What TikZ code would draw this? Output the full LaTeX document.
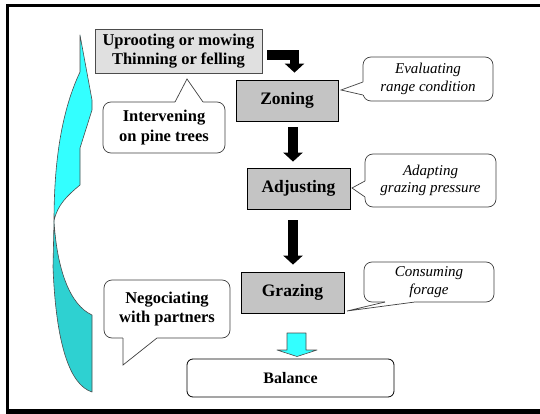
\documentclass[tikz,border=0pt]{standalone}
\usepackage{fontspec}
\setmainfont{Liberation Serif}
\usetikzlibrary{arrows.meta,calc}
\definecolor{lightcyan}{HTML}{33FFFF}
\definecolor{darkcyan}{HTML}{2ED1D1}
\definecolor{boxA}{HTML}{E0E0E0}
\definecolor{boxB}{HTML}{C4C4C4}
\newcommand\calloutptr[4]{%
  \fill[white] ($(#1)+#4$) -- ($(#1)-0.5*#4$) -- (#2) -- ($(#3)-0.5*#4$) -- ($(#3)+#4$) -- cycle;
  \draw[ptrline] (#1) -- (#2) -- (#3);}
\begin{document}
\begin{tikzpicture}[x=1pt,y=-1pt,
  stepbox/.style={draw=black,line width=0.8pt,fill=boxB,inner sep=0pt,
    font=\fontsize{17.5}{20}\selectfont\bfseries},
  callbox/.style={draw=black!75,line width=0.7pt,fill=white,rounded corners=8pt,
    inner sep=0pt,align=center},
  ptrline/.style={draw=black!75,line width=0.7pt},
  bolddesc/.style={font=\fontsize{16.5}{19.5}\selectfont\bfseries},
  itdesc/.style={font=\fontsize{15}{17.5}\selectfont\itshape},
  blk/.style={line width=9.5pt,draw=black,-{Triangle[width=19pt,length=9pt]}},
  cyanline/.style={draw=black!70,line width=0.6pt,line join=round},
]
\useasboundingbox (0,0) rectangle (540,414);

% frame
\draw[line width=3.2pt] (540,5.5) -- (7.5,5.5) -- (7.5,410);
\fill (5.9,409) rectangle (540,414);

% curved cyan arrow
\path[cyanline,fill=darkcyan] (54,221) -- (53,267)
  .. controls (56,345) and (70,385) .. (92,392) -- (92,315)
  .. controls (70,305) and (57,270) .. (54,221) -- cycle;
\path[cyanline,fill=lightcyan] (80,35) -- (92,100) -- (92,110) -- (80,148) -- (80,185)
  .. controls (68,195) and (57,205) .. (54,221)
  .. controls (54,160) and (62,110) .. (80,72) -- cycle;

% main boxes
\node[stepbox,fill=boxA,draw=black!70,minimum width=167pt,minimum height=44pt,align=center,
  font=\fontsize{16.5}{19.5}\selectfont\bfseries] (up) at (178.5,51)
  {Uprooting or mowing\\Thinning or felling};
\node[stepbox,minimum width=102pt,minimum height=41pt] (zon) at (287,100.5) {Zoning};
\node[stepbox,minimum width=103pt,minimum height=41pt] (adj) at (298.5,188.5) {Adjusting};
\node[stepbox,minimum width=103pt,minimum height=41pt] (gra) at (292.5,292.5) {Grazing};
\node[draw=black,line width=0.8pt,rounded corners=6pt,minimum width=207pt,minimum height=38pt,
  inner sep=0pt,font=\fontsize{16}{19}\selectfont\bfseries] (bal) at (290.5,378) {Balance};

% black arrows
\coordinate (ax) at (293,0);
\coordinate (bx) at (294.5,55);
\draw[blk] ([xshift=5pt]up.east |- bx) -- (bx) -- ([yshift=7pt]zon.north -| bx);
\draw[blk] ([yshift=-6pt]zon.south -| ax) -- ([yshift=6pt]adj.north -| ax);
\draw[blk] ([yshift=-11pt]adj.south -| ax) -- ([yshift=7pt]gra.north -| ax);

% cyan block arrow
\draw[cyanline,fill=lightcyan] (287,333) -- (306,333) -- (306,350) -- (317,350)
  -- (297,356.5) -- (277,350) -- (287,350) -- cycle;

% callouts
\node[callbox,minimum width=130pt,minimum height=44pt,itdesc] (eva) at (428,79)
  {Evaluating\\range condition};
\calloutptr{363,82}{341,90}{363,95}{(2,0)}
\node[callbox,minimum width=131pt,minimum height=53pt,itdesc] (ada) at (430.5,180.5)
  {Adapting\\grazing pressure};
\calloutptr{365,181}{352,188}{365,197}{(2,0)}
\node[callbox,minimum width=130pt,minimum height=40pt,itdesc] (con) at (429,282)
  {Consuming\\forage};
\calloutptr{385,302}{347,311}{415,302}{(0,-2)}
\node[callbox,minimum width=122pt,minimum height=51pt,bolddesc] (int) at (164,127.5)
  {Intervening\\on pine trees};
\calloutptr{175,102}{187,79}{203,102}{(0,2)}
\node[callbox,minimum width=126pt,minimum height=58pt,bolddesc] (neg) at (167,309)
  {Negociating\\with partners};
\calloutptr{123,338}{123,365}{157,338}{(0,-2)}
\end{tikzpicture}
\end{document}
